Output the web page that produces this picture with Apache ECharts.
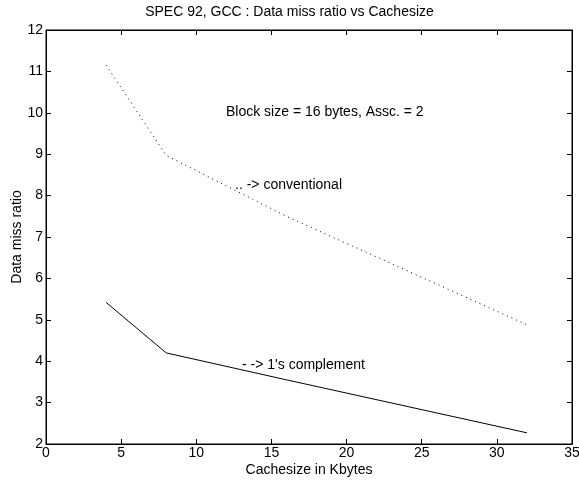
<!DOCTYPE html>
<html>
<head>
<meta charset="utf-8">
<script src="https://cdn.jsdelivr.net/npm/echarts@6/dist/echarts.min.js"></script>
</head>
<body style="margin:0;background:#fff">
<div id="chart" style="width:579px;height:480px"></div>
<script>
// cache sizes (Kbytes)
const cacheSizes = [4, 8, 16, 32];
// data miss ratio
const conventional = [11.15, 8.97, 7.5, 4.88];
const onesComplement = [5.42, 4.2, 3.55, 2.27];

const font = 'Liberation Sans, Arial, Helvetica, sans-serif';

let myChart = echarts.init(document.getElementById('chart'));

function pairs(xs, ys) {
  return xs.map((x, i) => [x, ys[i]]);
}

function axisCommon() {
  return {
    axisLine: { show: true, onZero: false, lineStyle: { color: '#000', width: 1 } },
    axisTick: { show: true, inside: true, length: 5, lineStyle: { color: '#000' } },
    splitLine: { show: false }
  };
}

let option = {
  animation: false,
  backgroundColor: '#fff',
  title: {
    text: 'SPEC 92, GCC : Data miss ratio vs Cachesize',
    left: 'center',
    top: 0,
    textStyle: { fontFamily: font, fontSize: 14, fontWeight: 'normal', color: '#000' }
  },
  grid: {
    left: 46, right: 7, top: 30, bottom: 36,
    outerBoundsMode: 'none', containLabel: false,
    show: true, borderColor: '#000', borderWidth: 1
  },
  xAxis: [
    Object.assign(axisCommon(), {
      type: 'value', min: 0, max: 35, interval: 5, position: 'bottom',
      name: 'Cachesize in Kbytes', nameLocation: 'middle', nameGap: 19,
      nameMoveOverlap: false,
      nameTextStyle: { fontFamily: font, fontSize: 14, color: '#000' },
      axisLabel: { fontFamily: font, fontSize: 14, color: '#000', margin: 2 }
    }),
    Object.assign(axisCommon(), {
      type: 'value', min: 0, max: 35, interval: 5, position: 'top',
      axisLabel: { show: false }
    })
  ],
  yAxis: [
    Object.assign(axisCommon(), {
      type: 'value', min: 2, max: 12, interval: 1, position: 'left',
      name: 'Data miss ratio', nameLocation: 'middle', nameGap: 22,
      nameMoveOverlap: false,
      nameTextStyle: { fontFamily: font, fontSize: 14, color: '#000' },
      axisLabel: { fontFamily: font, fontSize: 14, color: '#000', margin: 3 }
    }),
    Object.assign(axisCommon(), {
      type: 'value', min: 2, max: 12, interval: 1, position: 'right',
      axisLabel: { show: false }
    })
  ],
  graphic: [
    { type: 'text', left: 226, top: 105,
      style: { text: 'Block size = 16 bytes, Assc. = 2', font: '14px ' + font, fill: '#000' } },
    { type: 'text', left: 235, top: 178,
      style: { text: '.. -> conventional', font: '14px ' + font, fill: '#000' } },
    { type: 'text', left: 242, top: 358,
      style: { text: "- -> 1's complement", font: '14px ' + font, fill: '#000' } }
  ],
  series: [
    {
      name: 'conventional',
      type: 'line',
      symbol: 'none',
      data: pairs(cacheSizes, conventional),
      lineStyle: { color: '#000', width: 1, type: [1, 4] }
    },
    {
      name: "1's complement",
      type: 'line',
      symbol: 'none',
      data: pairs(cacheSizes, onesComplement),
      lineStyle: { color: '#000', width: 1, type: 'solid' }
    },
    {
      // empty series so the top/right frame axes get drawn with their ticks
      type: 'line',
      xAxisIndex: 1,
      yAxisIndex: 1,
      symbol: 'none',
      data: []
    }
  ]
};

myChart.setOption(option);
</script>
</body>
</html>
